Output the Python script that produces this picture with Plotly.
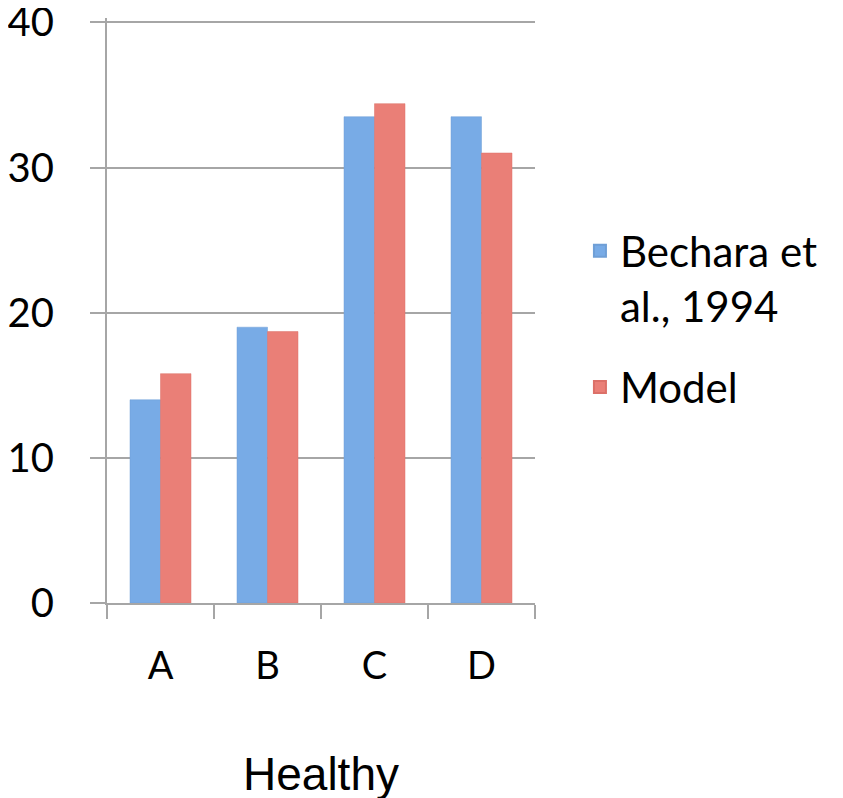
import plotly.graph_objects as go

categories = ["A", "B", "C", "D"]
bechara = [14.0, 19.0, 33.5, 33.5]
model = [15.8, 18.7, 34.4, 31.0]
series_names = ["Bechara et<br>al., 1994", "Model"]
y_ticks = [0, 10, 20, 30, 40]

fig = go.Figure()
fig.add_trace(go.Bar(x=categories, y=bechara, name=series_names[0], legendgroup="a",
                     marker=dict(color="#78abe6", line=dict(color="#6f9fd6", width=0.5))))
fig.add_trace(go.Bar(x=categories, y=model, name=series_names[1], legendgroup="b",
                     marker=dict(color="#ea7f77", line=dict(color="#dc7068", width=0.5))))

fig.update_layout(
    width=843, height=798,
    margin=dict(l=99, r=316, t=10, b=203, autoexpand=False),
    plot_bgcolor="white", paper_bgcolor="white",
    barmode="group", bargap=0.43, bargroupgap=0,
    font=dict(family="Lato", color="black"),
    legend=dict(x=1.105, xanchor="left", y=0.66, yanchor="top", valign="top",
                font=dict(size=42, family="Lato"), tracegroupgap=24,
                itemsizing="constant"),
    showlegend=True,
)
fig.update_xaxes(
    type="category", tickson="boundaries", ticks="outside", ticklen=14,
    tickcolor="#a6a6a6", tickwidth=2, showline=True, linecolor="#a6a6a6", linewidth=2,
    tickfont=dict(size=38, family="Lato"), ticklabelstandoff=28, automargin=False,
    title=dict(text="Healthy", font=dict(size=46, family="Liberation Sans"), standoff=72),
    showgrid=False,
)
fig.update_yaxes(
    range=[0, 40.3], tickvals=y_ticks, ticks="outside", ticklen=15, tickcolor="#a6a6a6",
    tickwidth=2, showline=True, linecolor="#a6a6a6", linewidth=2,
    showgrid=True, gridcolor="#a6a6a6", gridwidth=2, zeroline=False,
    tickfont=dict(size=40, family="Lato"), ticklabelstandoff=28, automargin=False,
    ticklabeloverflow="allow",
)
fig.write_html("out.html")
